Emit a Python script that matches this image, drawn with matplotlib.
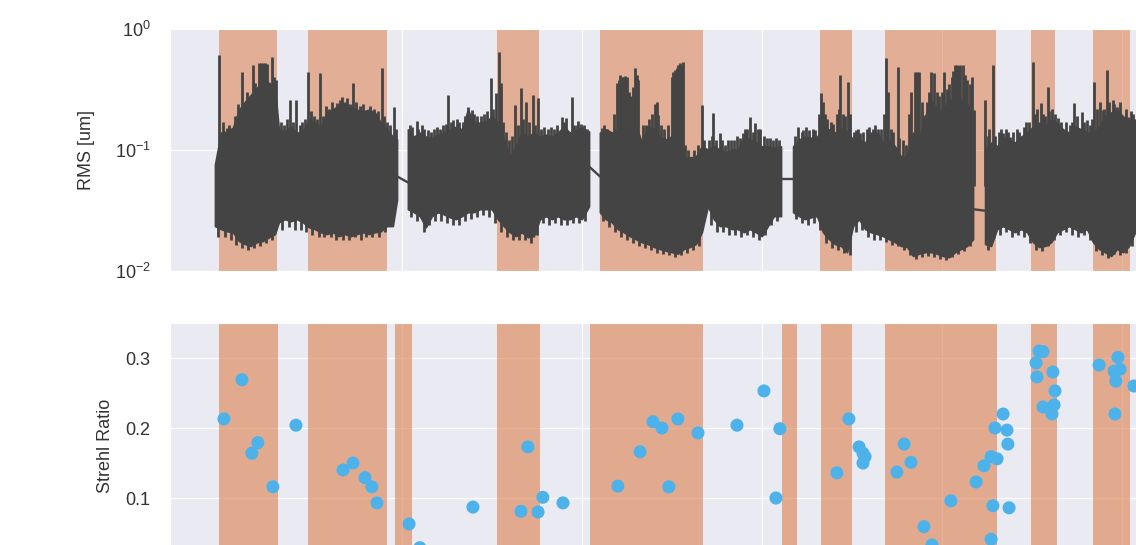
import numpy as np
import matplotlib
matplotlib.use('Agg')
from matplotlib import pyplot as plt
import seaborn as sns

# time axis in minutes
# RMS band: lower / upper envelope of the dense trace, per data block
rms_t = [15.0, 17.0, 19.0, 21.0, 23.0, 25.0, 27.0, 29.0, 31.0, 33.0, 35.0, 36.3, 38.3, 40.3, 42.3, 44.3,
         46.3, 48.3, 50.3, 52.3, 54.3, 56.3, 58.3, 60.3, 62.3, 64.3, 66.3, 68.3, 70.3, 72.3, 74.3, 75.7,
         79.3, 81.3, 83.3, 85.3, 87.3, 89.3, 91.3, 93.3, 95.3, 97.3, 99.3, 101.3, 103.3, 105.3, 107.3, 109.3,
         111.3, 113.3, 115.3, 117.3, 119.3, 121.3, 123.3, 125.3, 127.3, 129.3, 131.3, 133.3, 135.3, 137.3, 139.7,
         143.3, 145.3, 147.3, 149.3, 151.3, 153.3, 155.3, 157.3, 159.3, 161.3, 163.3, 165.3, 167.3, 169.3, 171.3,
         173.3, 175.3, 177.3, 179.3, 181.3, 183.3, 185.3, 187.3, 189.3, 191.3, 193.3, 195.3, 197.3, 199.3, 201.3, 203.7,
         207.7, 209.7, 211.7, 213.7, 215.7, 217.7, 219.7, 221.7, 223.7, 225.7, 227.7, 229.7, 231.7, 233.7, 235.7,
         237.7, 239.7, 241.7, 243.7, 245.7, 247.7, 249.7, 251.7, 253.7, 255.7, 257.7, 259.7, 261.7, 263.7, 265.7, 267.7,
         271.7, 273.7, 275.7, 277.7, 279.7, 281.7, 283.7, 285.7, 287.7, 289.7, 291.7, 293.7, 295.7, 297.7, 299.7,
         301.7, 303.7, 305.7, 307.7, 309.7, 311.7, 313.7, 315.7, 317.7, 319.7, 321.7, 325.0, 330.0]
rms_lo = [0.0235, 0.0222, 0.0213, 0.0209, 0.0177, 0.0167, 0.0161, 0.0173, 0.0177, 0.0190, 0.0202, 0.0253,
          0.0268, 0.0258, 0.0268, 0.0253, 0.0230, 0.0222, 0.0209, 0.0202, 0.0209, 0.0194, 0.0202, 0.0194,
          0.0202, 0.0209, 0.0202, 0.0209, 0.0213, 0.0235, 0.0235, 0.039,
          0.0324, 0.0306, 0.0284, 0.0230, 0.0284, 0.0306, 0.0294, 0.0278, 0.0268, 0.0284, 0.0306, 0.0306,
          0.0324, 0.0324, 0.0324, 0.0268, 0.0235, 0.0209, 0.0194, 0.0209, 0.0190, 0.0194, 0.0268, 0.0284,
          0.0268, 0.0284, 0.0268, 0.0268, 0.0284, 0.0268, 0.0343,
          0.0306, 0.0268, 0.0253, 0.0222, 0.0209, 0.0194, 0.0183, 0.0173, 0.0167, 0.0158, 0.0152, 0.0147,
          0.0143, 0.0139, 0.0152, 0.0158, 0.0167, 0.0209, 0.0343, 0.0268, 0.0235, 0.0235, 0.0222, 0.0222,
          0.0209, 0.0222, 0.0209, 0.0194, 0.0235, 0.0284, 0.0284,
          0.0306, 0.0284, 0.0268, 0.0278, 0.0284, 0.0209, 0.0183, 0.0167, 0.0161, 0.0143, 0.0235, 0.0268,
          0.0222, 0.0209, 0.0202, 0.0194, 0.0183, 0.0173, 0.0161, 0.0158, 0.0133, 0.0139, 0.0143, 0.0143,
          0.0139, 0.0133, 0.0130, 0.0143, 0.0152, 0.0161, 0.0183,
          0.0167, 0.0161, 0.0222, 0.0235, 0.0222, 0.0209, 0.0222, 0.0209, 0.0173, 0.0158, 0.0161, 0.0173,
          0.0209, 0.0222, 0.0235, 0.0222, 0.0209, 0.0222, 0.0173, 0.0152, 0.0143, 0.0133, 0.0152, 0.0143,
          0.0161, 0.0209, 0.0183, 0.0194]
rms_hi = [0.076, 0.139, 0.142, 0.153, 0.215, 0.250, 0.286, 0.327, 0.366, 0.359, 0.333, 0.148, 0.142, 0.156,
          0.139, 0.142, 0.178, 0.168, 0.153, 0.204, 0.215, 0.237, 0.246, 0.228, 0.215, 0.208, 0.215, 0.204,
          0.168, 0.148, 0.129, 0.122,
          0.148, 0.129, 0.139, 0.129, 0.126, 0.134, 0.139, 0.148, 0.156, 0.148, 0.215, 0.168, 0.168, 0.172,
          0.189, 0.170, 0.122, 0.088, 0.107, 0.139, 0.129, 0.139, 0.129, 0.134, 0.129, 0.139, 0.156, 0.139,
          0.148, 0.153, 0.142,
          0.139, 0.148, 0.139, 0.150, 0.160, 0.150, 0.160, 0.115, 0.156, 0.150, 0.129, 0.122, 0.130, 0.130,
          0.0835, 0.087, 0.088, 0.107, 0.101, 0.107, 0.101, 0.0954, 0.101, 0.101, 0.129, 0.122, 0.115, 0.107,
          0.107, 0.104, 0.107,
          0.107, 0.122, 0.129, 0.126, 0.129, 0.150, 0.148, 0.139, 0.153, 0.142, 0.122, 0.122, 0.115, 0.139,
          0.139, 0.115, 0.122, 0.107, 0.088, 0.088, 0.139, 0.122, 0.189, 0.260, 0.215, 0.215, 0.260, 0.260,
          0.260, 0.240, 0.200,
          0.101, 0.115, 0.107, 0.129, 0.122, 0.115, 0.129, 0.139, 0.156, 0.168, 0.156, 0.178, 0.168, 0.148,
          0.139, 0.156, 0.148, 0.139, 0.139, 0.156, 0.189, 0.204, 0.215, 0.189, 0.178, 0.178, 0.168, 0.148]

# peaks sticking out of the top of the band
spike_t = [16.4, 18.9, 20.6, 23.9, 27.6, 29.8, 30.4, 31.1, 31.7, 32.4, 33.9, 40.0, 42.0, 46.1, 50.0, 55.6,
           57.4, 61.1, 65.6, 70.6, 74.8,
           17.8, 19.6, 21.8, 22.6, 25.8, 28.4, 34.6, 35.2, 37.0, 38.0, 39.0, 41.0, 43.2, 44.0, 45.0, 47.0,
           48.0, 49.0, 51.0, 52.0, 53.0, 54.0, 56.6, 59.0, 60.0, 62.0, 63.2, 64.4, 66.8, 68.0, 69.2, 71.4,
           72.4, 73.4, 75.3,
           82.2, 83.9, 92.8, 94.4, 99.4, 100.6, 106.9, 108.6, 109.7, 110.2, 112.0, 115.0, 116.9, 118.7, 120.9,
           122.6, 130.6, 132.0, 133.9, 136.1,
           80.0, 80.8, 82.8, 84.6, 86.0, 87.0, 88.0, 89.0, 90.0, 91.0, 92.0, 93.8, 95.6, 96.4, 97.6, 98.4,
           101.4, 102.4, 103.6, 104.6, 105.6, 107.8, 111.0, 113.0, 114.0, 116.0, 117.8, 119.8, 121.8, 123.8,
           124.8, 126.0, 127.0, 128.0, 129.0, 131.4, 134.6, 135.6, 137.0, 138.0, 139.0,
           143.9, 146.7, 150.0, 151.1, 152.2, 155.0, 156.1, 158.7, 162.2, 162.8, 167.8, 168.9, 169.5, 170.0,
           170.9, 177.2, 181.1, 183.3, 191.1, 191.7, 193.3, 195.0, 196.7,
           144.6, 145.8, 148.0, 149.0, 149.6, 150.6, 151.7, 153.0, 153.8, 154.4, 155.6, 157.6, 159.8, 160.6,
           161.6, 163.6, 164.6, 166.0, 167.2, 168.4, 169.0, 170.4, 171.6, 172.6, 174.6, 176.0, 178.0, 179.8,
           180.6, 182.0, 184.0, 185.0, 186.0, 187.0, 188.0, 189.0, 190.0, 192.4, 194.2, 196.0, 198.0, 199.0,
           200.0, 201.0, 202.0, 203.0,
           209.4, 212.0, 216.9, 223.3, 226.1, 230.0, 234.2, 236.1, 238.7, 242.8, 248.3, 249.0, 249.8, 251.1,
           253.6, 254.7, 258.0, 261.7, 262.5, 263.4, 264.2, 267.2, 268.1,
           208.4, 210.6, 211.0, 213.0, 214.2, 215.0, 216.2, 217.6, 218.4, 219.0, 220.4, 221.0, 222.2, 223.0,
           224.4, 225.0, 226.8, 228.0, 228.8, 229.4, 231.0, 232.4, 233.0, 235.0, 237.0, 238.0, 239.4, 240.2,
           241.0, 243.0, 244.4, 245.2, 246.4, 247.0, 250.6, 252.4, 253.0, 255.6, 256.4, 257.2, 259.0, 259.8,
           260.6, 261.0, 263.0, 265.0, 265.8, 266.6,
           271.7, 274.4, 277.8, 280.0, 287.6, 290.2, 292.8, 296.1, 301.3, 303.9, 305.6, 308.1, 310.9, 312.2,
           315.6, 317.8, 319.4,
           272.6, 273.0, 275.0, 276.2, 277.0, 278.6, 279.2, 281.0, 282.4, 283.0, 284.6, 285.4, 286.4, 288.4,
           289.0, 291.0, 291.6, 293.0, 294.0, 295.0, 297.0, 298.6, 300.0, 300.6, 302.4, 304.6, 306.6, 307.2,
           309.0, 310.0, 311.4, 313.0, 314.2, 314.8, 316.6, 318.6, 320.4, 321.0, 322.4, 323.6, 325.6, 327.0,
           328.6]
spike_v = [0.611, 0.153, 0.148, 0.443, 0.505, 0.525, 0.52, 0.525, 0.52, 0.515, 0.588, 0.260, 0.260, 0.443,
           0.435, 0.246, 0.276, 0.359, 0.215, 0.478, 0.228,
           0.17, 0.16, 0.19, 0.24, 0.30, 0.36, 0.40, 0.38, 0.17, 0.16, 0.18, 0.17, 0.16, 0.17, 0.18, 0.21,
           0.19, 0.18, 0.19, 0.23, 0.22, 0.25, 0.26, 0.27, 0.24, 0.25, 0.23, 0.24, 0.23, 0.22, 0.21, 0.19,
           0.17, 0.16, 0.15,
           0.172, 0.162, 0.286, 0.178, 0.228, 0.215, 0.395, 0.297, 0.647, 0.359, 0.142, 0.237, 0.327, 0.250,
           0.286, 0.270, 0.189, 0.185, 0.276, 0.172,
           0.16, 0.155, 0.15, 0.15, 0.145, 0.14, 0.15, 0.155, 0.15, 0.16, 0.165, 0.17, 0.18, 0.17, 0.17, 0.19,
           0.20, 0.19, 0.19, 0.20, 0.21, 0.22, 0.17, 0.12, 0.13, 0.16, 0.18, 0.17, 0.16, 0.15,
           0.155, 0.15, 0.155, 0.15, 0.16, 0.17, 0.16, 0.16, 0.165, 0.16, 0.15,
           0.153, 0.142, 0.418, 0.40, 0.403, 0.478, 0.380, 0.162, 0.250, 0.196, 0.443, 0.47, 0.50, 0.525,
           0.535, 0.237, 0.204, 0.139, 0.139, 0.148, 0.189, 0.168, 0.148,
           0.16, 0.15, 0.20, 0.36, 0.38, 0.40, 0.41, 0.30, 0.28, 0.33, 0.42, 0.16, 0.18, 0.20,
           0.24, 0.16, 0.15, 0.16, 0.40, 0.46, 0.48, 0.50, 0.11, 0.10, 0.10, 0.11, 0.12, 0.12,
           0.13, 0.12, 0.12, 0.11, 0.12, 0.12, 0.12, 0.13, 0.125, 0.15, 0.14, 0.15, 0.13, 0.125,
           0.125, 0.12, 0.125, 0.12,
           0.156, 0.156, 0.297, 0.418, 0.366, 0.139, 0.148, 0.148, 0.577, 0.487, 0.443, 0.44, 0.443, 0.196,
           0.443, 0.435, 0.443, 0.505, 0.50, 0.50, 0.505, 0.403, 0.215,
           0.13, 0.14, 0.145, 0.145, 0.15, 0.145, 0.20, 0.25, 0.20, 0.18, 0.17, 0.165, 0.20, 0.22,
           0.20, 0.19, 0.20, 0.14, 0.145, 0.15, 0.14, 0.15, 0.155, 0.16, 0.15, 0.20, 0.30, 0.15,
           0.14, 0.125, 0.12, 0.11, 0.20, 0.30, 0.25, 0.25, 0.30, 0.30, 0.28, 0.30, 0.32, 0.35,
           0.40, 0.45, 0.49, 0.42, 0.38, 0.35,
           0.260, 0.505, 0.139, 0.129, 0.535, 0.246, 0.333, 0.185, 0.246, 0.208, 0.178, 0.366, 0.215, 0.460,
           0.228, 0.189, 0.189,
           0.13, 0.15, 0.13, 0.14, 0.15, 0.15, 0.14, 0.14, 0.15, 0.14, 0.155, 0.17, 0.17, 0.20,
           0.22, 0.20, 0.19, 0.21, 0.22, 0.20, 0.17, 0.17, 0.16, 0.17, 0.19, 0.17, 0.16, 0.18,
           0.22, 0.25, 0.22, 0.25, 0.26, 0.24, 0.25, 0.22, 0.21, 0.20, 0.21, 0.20, 0.19, 0.20,
           0.18]

# short dips below the band
dip_t = [16.0, 18.4, 20.2, 22.0, 24.0, 26.0, 28.0, 30.0, 32.0, 34.0, 37.4, 39.6, 41.6, 43.6, 45.4, 47.4,
         49.6, 51.4, 53.6, 55.4, 57.6, 59.6, 61.6, 63.6, 65.4, 67.4, 69.6, 71.6,
         80.4, 82.4, 84.6, 86.4, 88.4, 90.4, 92.4, 94.4, 96.4, 98.4, 100.4, 102.4, 104.4, 106.4, 108.4, 110.4,
         112.4, 114.4, 116.4, 118.4, 120.4, 122.4, 124.4, 126.4, 128.4, 130.4, 132.4, 134.4, 136.4, 138.4,
         144.4, 146.4, 148.4, 150.4, 152.4, 154.4, 156.4, 158.4, 160.4, 162.4, 164.4, 166.4, 168.4, 170.4,
         172.4, 174.4, 176.4, 180.4, 182.4, 184.4, 186.4, 188.4, 190.4, 192.4, 194.4, 196.4, 198.4, 200.4, 202.4,
         208.6, 210.6, 212.6, 214.6, 216.6, 218.6, 220.6, 222.6, 224.6, 226.6, 228.6, 230.6, 232.6, 234.6,
         236.6, 238.6, 240.6, 242.6, 244.6, 246.6, 248.6, 250.6, 252.6, 254.6, 256.6, 258.6, 260.6, 262.6,
         264.6, 266.6,
         272.6, 274.6, 276.6, 278.6, 280.6, 282.6, 284.6, 286.6, 288.6, 290.6, 292.6, 294.6, 296.6, 298.6,
         300.6, 302.6, 304.6, 306.6, 308.6, 310.6, 312.6, 314.6, 316.6, 318.6, 320.6, 322.6, 324.6, 326.6, 328.6]
dip_v = [0.019, 0.019, 0.018, 0.0165, 0.0155, 0.015, 0.0155, 0.016, 0.017, 0.018, 0.022, 0.023, 0.022, 0.022,
         0.021, 0.020, 0.019, 0.019, 0.019, 0.018, 0.018, 0.018, 0.019, 0.018, 0.019, 0.019, 0.019, 0.021,
         0.028, 0.026, 0.021, 0.024, 0.026, 0.026, 0.025, 0.024, 0.024, 0.026, 0.027, 0.028, 0.029, 0.028,
         0.025, 0.021, 0.019, 0.018, 0.018, 0.018, 0.017, 0.020, 0.025, 0.024, 0.025, 0.024, 0.024, 0.025,
         0.025, 0.026,
         0.026, 0.023, 0.021, 0.019, 0.018, 0.017, 0.016, 0.0155, 0.015, 0.014, 0.0138, 0.0135, 0.013, 0.0135,
         0.014, 0.015, 0.016, 0.024, 0.021, 0.021, 0.020, 0.020, 0.019, 0.020, 0.019, 0.018, 0.020, 0.024, 0.026,
         0.027, 0.025, 0.024, 0.025, 0.022, 0.017, 0.0155, 0.015, 0.014, 0.0135, 0.021, 0.022, 0.019, 0.018,
         0.018, 0.0175, 0.0165, 0.016, 0.0148, 0.0135, 0.0125, 0.013, 0.0133, 0.013, 0.0125, 0.0123, 0.013,
         0.0138, 0.0145, 0.016,
         0.015, 0.019, 0.020, 0.021, 0.019, 0.020, 0.019, 0.017, 0.0148, 0.0145, 0.016, 0.018, 0.020, 0.021,
         0.020, 0.019, 0.020, 0.018, 0.0145, 0.0135, 0.0128, 0.0138, 0.0135, 0.014, 0.016, 0.017, 0.017, 0.018,
         0.017]

# straight line segments bridging the data gaps
gap_t0 = [75.7, 139.7, 203.7, 267.7]
gap_v0 = [0.0605, 0.073, 0.0572, 0.0324]
gap_t1 = [79.3, 143.3, 207.7, 271.7]
gap_v1 = [0.054, 0.0605, 0.0572, 0.0315]

# shaded intervals
rms_span_start = [16.3, 46.0, 109.0, 143.3, 216.7, 238.3, 287.0, 307.7]
rms_span_end = [35.7, 72.3, 123.0, 177.7, 227.3, 275.3, 295.0, 320.0]
sr_span_start = [16.3, 46.0, 75.0, 109.0, 140.0, 203.9, 217.0, 238.3, 287.0, 307.7]
sr_span_end = [36.0, 72.3, 80.6, 123.3, 177.8, 208.9, 227.3, 275.7, 295.7, 320.0]

# Strehl ratio measurements
sr_t = [18.0, 24.0, 27.3, 29.3, 34.3, 42.0, 57.7, 61.0, 65.0, 67.3, 69.0, 79.7, 83.3, 101.0, 117.0, 119.3,
        122.7, 124.3, 131.0, 149.3, 156.7, 161.0, 164.0, 166.3, 169.3, 176.0, 173.3, 189.0, 198.0, 202.0,
        203.3, 222.3, 226.3, 229.7, 231.0, 231.7, 231.0, 242.3, 244.7, 247.0, 251.3, 254.0, 260.3, 268.7,
        271.3, 273.7, 275.7, 274.3, 273.7, 279.7, 277.7, 275.0, 279.0, 279.3, 289.7, 291.0, 288.7, 294.3,
        289.0, 295.0, 291.0, 294.7, 294.0, 309.7, 316.0, 314.7, 316.7, 315.3, 315.0, 321.3]
sr_v = [0.213, 0.269, 0.164, 0.179, 0.116, 0.204, 0.140, 0.150, 0.129, 0.116, 0.093, 0.063, 0.029, 0.087,
        0.081, 0.173, 0.080, 0.101, 0.093, 0.117, 0.166, 0.209, 0.200, 0.116, 0.213, 0.193, 0.021, 0.204,
        0.253, 0.100, 0.199, 0.136, 0.213, 0.173, 0.164, 0.159, 0.150, 0.137, 0.177, 0.151, 0.059, 0.033,
        0.096, 0.123, 0.146, 0.159, 0.156, 0.089, 0.041, 0.086, 0.220, 0.200, 0.197, 0.177, 0.310, 0.309,
        0.293, 0.280, 0.273, 0.253, 0.230, 0.233, 0.220, 0.290, 0.301, 0.281, 0.284, 0.267, 0.220, 0.260]

grid_ticks = [77.5, 137.5, 197.5, 257.5, 317.5]

LINE = '#444444'
SPAN = '#DD8452'
DOT = '#4DB2EA'


def main():
    sns.set_style('darkgrid')
    plt.rcParams['font.family'] = ['Liberation Sans', 'DejaVu Sans']
    plt.rcParams['text.color'] = '#333333'
    plt.rcParams['ytick.color'] = '#333333'
    plt.rcParams['axes.labelcolor'] = '#333333'

    fig = plt.figure(figsize=(11.36, 5.45), dpi=100)
    # the reference is a crop: both panels run past the right and bottom edges
    ax1 = fig.add_axes([0.1496, 0.5028, 0.8715, 0.4440])
    ax2 = fig.add_axes([0.1496, -0.0422, 0.8715, 0.4495])

    t = np.array(rms_t)
    lo = np.array(rms_lo)
    hi = np.array(rms_hi)
    block = np.searchsorted(gap_t1, t, side='right')
    for b in np.unique(block):
        m = block == b
        ax1.fill_between(t[m], lo[m], hi[m], color=LINE, lw=1.2, zorder=2)
    ax1.vlines(spike_t, 0.05, spike_v, color=LINE, lw=2.0, zorder=2)
    ax1.vlines(dip_t, dip_v, 0.05, color=LINE, lw=2.0, zorder=2)
    for t0, v0, t1, v1 in zip(gap_t0, gap_v0, gap_t1, gap_v1):
        ax1.plot([t0, t1], [v0, v1], color=LINE, lw=1.7, zorder=2)
    for a, b in zip(rms_span_start, rms_span_end):
        ax1.axvspan(a, b, color=SPAN, alpha=0.58, lw=0, zorder=1)

    ax1.set_yscale('log')
    ax1.set_ylim(0.01, 1)
    ax1.set_xlim(0, 330)
    ax1.set_xticks(grid_ticks)
    ax1.tick_params(axis='x', labelbottom=False, length=0)
    ax1.tick_params(axis='y', which='both', length=0, pad=14, labelsize=13)
    ax1.yaxis.set_minor_locator(plt.NullLocator())
    ax1.set_ylabel('RMS [um]', fontsize=13, labelpad=14)

    for a, b in zip(sr_span_start, sr_span_end):
        ax2.axvspan(a, b, color=SPAN, alpha=0.62, lw=0, zorder=1)
    ax2.scatter(sr_t, sr_v, s=88, color=DOT, edgecolors='none', zorder=3)
    ax2.set_xlim(0, 330)
    ax2.set_ylim(0, 0.35)
    ax2.set_xticks(grid_ticks)
    ax2.set_yticks([0.1, 0.2, 0.3])
    ax2.tick_params(axis='x', labelbottom=False, length=0)
    ax2.tick_params(axis='y', length=0, pad=14, labelsize=13)
    ax2.set_ylabel('Strehl Ratio', fontsize=13, labelpad=8)

    fig.savefig('out.png', dpi=100)


if __name__ == '__main__':
    main()
